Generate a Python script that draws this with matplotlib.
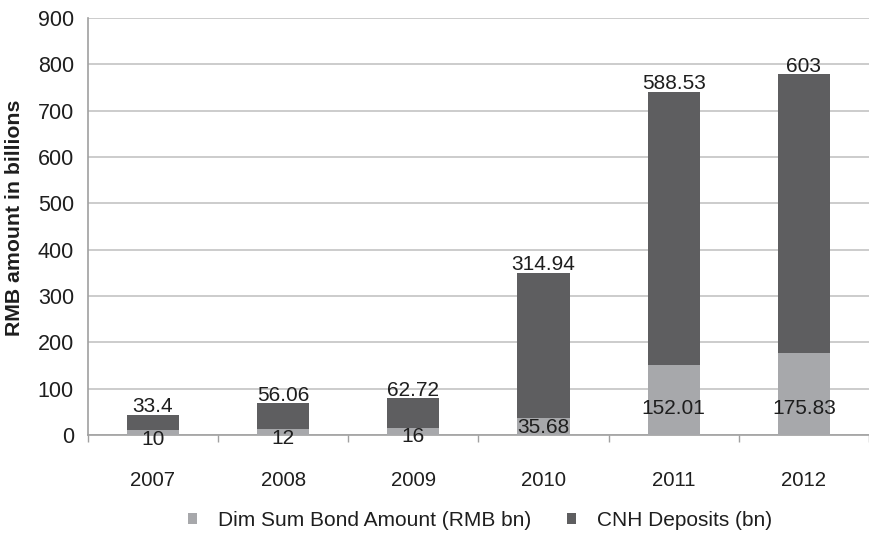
import numpy as np
from matplotlib import pyplot as plt

# Dim sum bond issuance and CNH deposits, RMB bn
years = ['2007', '2008', '2009', '2010', '2011', '2012']
bonds = [10, 12, 16, 35.68, 152.01, 175.83]
deposits = [33.4, 56.06, 62.72, 314.94, 588.53, 603]

light = '#a7a8ab'
dark = '#5e5e60'
grid = '#c4c4c4'
txt = '#1e1e1e'

plt.rcParams['font.family'] = ['Liberation Sans', 'DejaVu Sans']

fig = plt.figure(figsize=(8.69, 5.33), dpi=100)
ax = fig.add_axes([0.101, 0.184, 0.899, 0.782])

x = np.arange(len(years))
ax.bar(x, bonds, width=0.4, color=light, label='Dim Sum Bond Amount (RMB bn)', zorder=3)
ax.bar(x, deposits, width=0.4, bottom=bonds, color=dark, label='CNH Deposits (bn)', zorder=3)

# Value labels: deposits above each stack, bonds near the base
for xi, b, d in zip(x, bonds, deposits):
    ax.annotate(f'{d:g}', (xi, b + d), xytext=(0, -1), textcoords='offset points',
                ha='center', va='bottom', fontsize=15, color=txt, zorder=4)
    ax.text(xi, min(b - 19, 58), f'{b:g}', ha='center', va='center',
            fontsize=15, color=txt, zorder=4)

ax.set_xlim(-0.5, len(years) - 0.5)
ax.set_ylim(0, 900)
ax.set_yticks(range(0, 901, 100))
ax.set_xticks(x)
ax.set_xticklabels(years)
ax.set_xticks(np.arange(-0.5, len(years)), minor=True)
ax.tick_params(axis='x', which='major', length=0, pad=26, labelsize=14.7, colors=txt)
ax.tick_params(axis='x', which='minor', length=5, color='#a0a0a0', width=1)
ax.tick_params(axis='y', length=0, pad=10, labelsize=15.5, colors=txt)

ax.yaxis.grid(True, color=grid, linewidth=1.2, zorder=0)
for side in ['top', 'right']:
    ax.spines[side].set_visible(False)
ax.spines['left'].set_color('#a0a0a0')
ax.spines['bottom'].set_color('#a0a0a0')
ax.spines['left'].set_linewidth(1.2)
ax.spines['bottom'].set_linewidth(1.2)

ax.set_ylabel('RMB amount in billions', fontsize=15.3, fontweight='bold', color=txt)
ax.yaxis.set_label_coords(-0.081, 0.52)

ax.legend(loc='center', bbox_to_anchor=(0.502, -0.206), ncol=2, frameon=False,
          fontsize=15, handlelength=0.45, handleheight=0.45, handletextpad=1.0,
          columnspacing=1.7, labelcolor=txt)

plt.savefig('out.png', dpi=100)
